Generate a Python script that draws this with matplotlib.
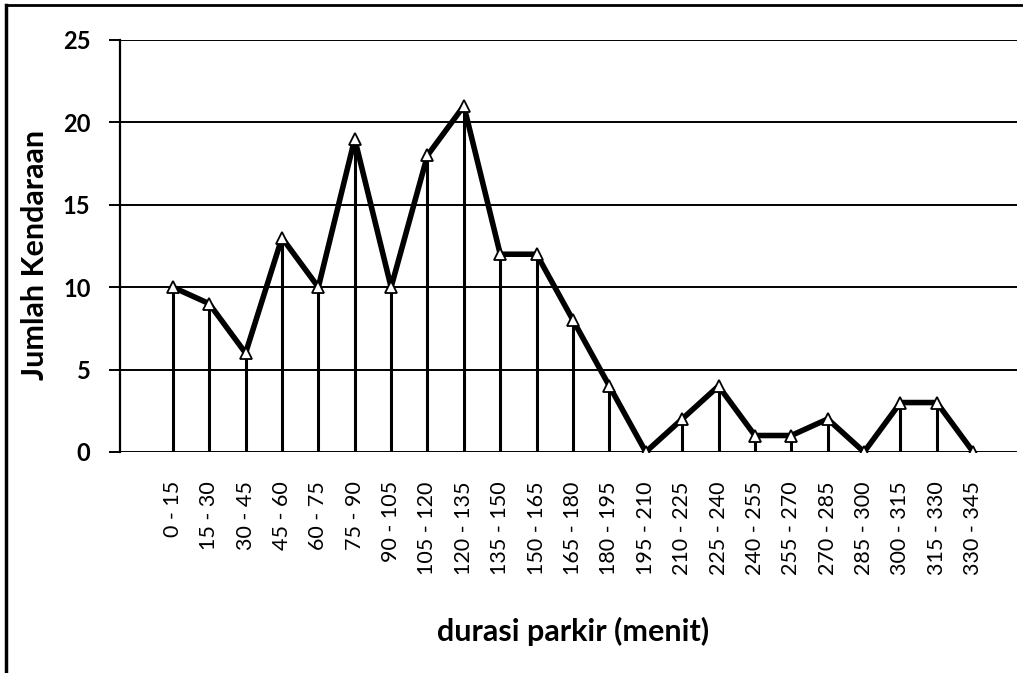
import numpy as np
import matplotlib.pyplot as plt
from matplotlib.lines import Line2D

plt.rcParams['font.family'] = ['Lato', 'DejaVu Sans']

# durasi parkir categories (menit) and jumlah kendaraan
categories = ["0 - 15", "15 - 30", "30 - 45", "45 - 60", "60 - 75", "75 - 90",
              "90 - 105", "105 - 120", "120 - 135", "135 - 150", "150 - 165",
              "165 - 180", "180 - 195", "195 - 210", "210 - 225", "225 - 240",
              "240 - 255", "255 - 270", "270 - 285", "285 - 300", "300 - 315",
              "315 - 330", "330 - 345"]
jumlah = [10, 9, 6, 13, 10, 19, 10, 18, 21, 12, 12, 8, 4, 0, 2, 4, 1, 1, 2, 0, 3, 3, 0]
y_ticks = [0, 5, 10, 15, 20, 25]

fig = plt.figure(figsize=(10.23, 6.73), dpi=100)
ax = fig.add_axes([0.117, 0.3284, 0.877, 0.6122])

x = np.arange(len(categories))

# gridlines
for t in y_ticks:
    ax.axhline(t, color='black', lw=1.4, zorder=1)

# drop lines
ax.vlines(x, 0, jumlah, color='black', lw=2.2, zorder=2)
# main line
ax.plot(x, jumlah, color='black', lw=4, zorder=3,
        marker='^', markersize=9, markerfacecolor='white',
        markeredgecolor='black', markeredgewidth=1.3)

ax.set_xlim(-1.46, 23.2)
ax.set_ylim(0, 25)
ax.set_yticks(y_ticks)
ax.set_yticklabels([str(t) for t in y_ticks], fontsize=17, fontweight='bold')
ax.set_xticks(x)
ax.set_xticklabels(categories, rotation=90, fontsize=15.5)
ax.tick_params(axis='x', length=0, pad=21)
ax.tick_params(axis='y', length=8, width=1.4, pad=13)

for side in ['top', 'right', 'bottom']:
    ax.spines[side].set_visible(False)
ax.spines['left'].set_linewidth(1.6)

fig.text(0.034, 0.621, "Jumlah Kendaraan", fontsize=22, fontweight='bold',
         rotation=90, ha='center', va='center')
fig.text(0.560, 0.061, "durasi parkir (menit)", fontsize=22, fontweight='bold',
         ha='center', va='center')

# outer frame (left and top edges visible)
fig.add_artist(Line2D([0.006, 0.006], [0.0, 0.993], transform=fig.transFigure,
                      color='black', lw=2.5))
fig.add_artist(Line2D([0.006, 1.0], [0.993, 0.993], transform=fig.transFigure,
                      color='black', lw=2))

fig.savefig("out.png", dpi=100)
